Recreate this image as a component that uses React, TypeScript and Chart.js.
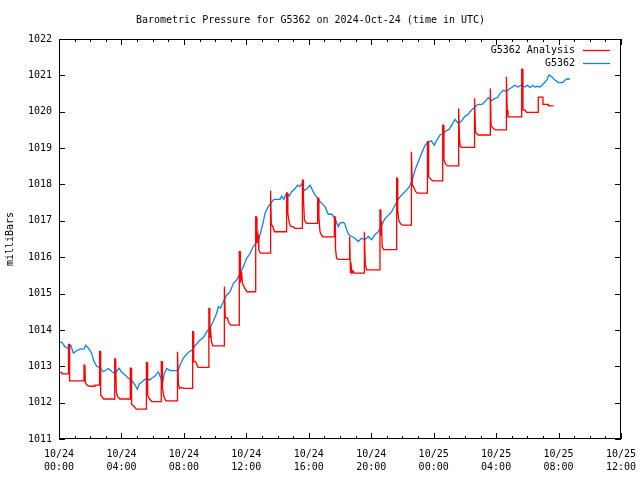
import React, { useEffect, useRef } from "react";
import { Chart, registerables } from "chart.js";

Chart.register(...registerables);

const chartTitle = "Barometric Pressure for G5362 on 2024-Oct-24 (time in UTC)";
const yAxisTitle = "milliBars";
const seriesNames = ["G5362 Analysis", "G5362"];
const seriesColors = ["#ff0000", "rgb(16,128,240)"];

// x values are hours since 10/24 00:00 UTC
const xTickLabels = [
  ["10/24", "00:00"],
  ["10/24", "04:00"],
  ["10/24", "08:00"],
  ["10/24", "12:00"],
  ["10/24", "16:00"],
  ["10/24", "20:00"],
  ["10/25", "00:00"],
  ["10/25", "04:00"],
  ["10/25", "08:00"],
  ["10/25", "12:00"],
];
const xMin = 0;
const xMax = 36;
const xMajorStep = 4;
const yMin = 1011;
const yMax = 1022;

const analysisHours = [
  0, 0.19, 0.19, 0.58, 0.58, 0.62, 0.63, 0.66, 0.68, 1.6,
  1.6, 1.66, 1.69, 1.8, 1.95, 2.3, 2.3, 2.6,
  2.6, 2.65, 2.67, 2.75, 2.85, 3.57,
  3.57, 3.63, 3.67, 3.75, 3.9, 4.55,
  4.55, 4.58, 4.62, 4.65, 4.8, 4.95, 5.6,
  5.6, 5.65, 5.68, 5.8, 5.95, 6.55,
  6.55, 6.6, 6.63, 6.72, 6.85, 7.56,
  7.56, 7.62, 7.65, 7.72, 7.85, 8.0, 8.56,
  8.56, 8.6, 8.63, 8.75, 8.9, 9.6,
  9.6, 9.64, 9.66, 9.72, 9.76, 9.85, 10.57,
  10.57, 10.62, 10.65, 10.8, 10.85, 11.0, 11.55,
  11.55, 11.6, 11.62, 11.7, 11.75, 11.9, 12.05, 12.6,
  12.6, 12.65, 12.68, 12.75, 12.8, 12.9, 13.53,
  13.53, 13.58, 13.6, 13.7, 13.8, 14.58,
  14.58, 14.62, 14.66, 14.75, 14.85, 15.0, 15.1, 15.59,
  15.59, 15.64, 15.66, 15.72, 15.85, 16.57,
  16.57, 16.62, 16.65, 16.72, 16.8, 16.9, 17.64,
  17.64, 17.68, 17.71, 17.78, 17.9, 18.6,
  18.6, 18.64, 18.67, 18.72, 18.77, 18.85, 18.9, 19.54,
  19.54, 19.58, 19.62, 19.7, 20.56,
  20.56, 20.6, 20.62, 20.66, 20.7, 20.8, 21.63,
  21.63, 21.67, 21.7, 21.76, 21.88, 22.0, 22.55,
  22.55, 22.6, 22.63, 22.7, 22.85, 22.95, 23.6,
  23.6, 23.64, 23.68, 23.8, 23.95, 24.58,
  24.58, 24.62, 24.66, 24.78, 24.9, 25.58,
  25.58, 25.62, 25.65, 25.7, 25.8, 26.6,
  26.6, 26.64, 26.68, 26.75, 26.85, 27.61,
  27.61, 27.65, 27.68, 27.8, 27.95, 28.64,
  28.64, 28.68, 28.71, 28.76, 29.64,
  29.64, 29.68, 29.72, 29.85, 29.95, 30.7,
  30.7, 31.0, 31.0, 31.35, 31.35, 31.67,
];
const analysisValues = [
  1012.83, 1012.83, 1012.79, 1012.79, 1013.36, 1013.36, 1013.6, 1013.6, 1012.6, 1012.6,
  1013.03, 1013.03, 1012.55, 1012.48, 1012.45, 1012.45, 1012.48, 1012.48,
  1013.41, 1013.41, 1012.2, 1012.17, 1012.1, 1012.1,
  1013.2, 1013.2, 1012.3, 1012.17, 1012.1, 1012.1,
  1012.67, 1012.95, 1012.95, 1011.95, 1011.9, 1011.82, 1011.82,
  1013.1, 1013.1, 1012.2, 1012.1, 1012.03, 1012.03,
  1013.13, 1013.13, 1012.4, 1012.16, 1012.05, 1012.05,
  1013.4, 1013.4, 1012.5, 1012.39, 1012.42, 1012.39, 1012.39,
  1013.95, 1013.95, 1013.13, 1013.13, 1012.97, 1012.97,
  1014.59, 1014.59, 1013.78, 1013.95, 1013.7, 1013.56, 1013.56,
  1015.19, 1015.19, 1014.33, 1014.33, 1014.22, 1014.13, 1014.13,
  1016.15, 1016.15, 1015.3, 1015.6, 1015.28, 1015.15, 1015.05, 1015.05,
  1017.11, 1017.11, 1016.4, 1016.6, 1016.2, 1016.11, 1016.11,
  1017.83, 1017.83, 1016.9, 1016.84, 1016.7, 1016.7,
  1017.76, 1017.76, 1017.2, 1016.95, 1016.84, 1016.84, 1016.79, 1016.79,
  1018.12, 1018.12, 1017.6, 1017.02, 1016.93, 1016.93,
  1017.62, 1017.62, 1017.1, 1016.7, 1016.62, 1016.56, 1016.56,
  1017.11, 1017.11, 1016.24, 1015.97, 1015.94, 1015.94,
  1016.56, 1016.56, 1015.56, 1015.75, 1015.56, 1015.62, 1015.56, 1015.56,
  1016.7, 1016.7, 1015.8, 1015.65, 1015.65,
  1017.3, 1017.3, 1016.6, 1017.0, 1016.29, 1016.21, 1016.21,
  1018.17, 1018.17, 1017.3, 1017.02, 1016.92, 1016.88, 1016.88,
  1018.9, 1018.9, 1018.0, 1017.94, 1017.8, 1017.76, 1017.76,
  1019.18, 1019.18, 1018.21, 1018.15, 1018.1, 1018.1,
  1019.63, 1019.63, 1018.67, 1018.55, 1018.51, 1018.51,
  1020.09, 1020.09, 1019.3, 1019.05, 1019.02, 1019.02,
  1020.37, 1020.37, 1019.45, 1019.4, 1019.36, 1019.36,
  1020.64, 1020.64, 1019.6, 1019.55, 1019.5, 1019.5,
  1020.96, 1020.96, 1020.05, 1019.86, 1019.86,
  1021.17, 1021.17, 1020.05, 1020.05, 1019.98, 1019.98,
  1020.4, 1020.4, 1020.2, 1020.2, 1020.16, 1020.16,
];

const stationHours = [
  0, 0.2, 0.38, 0.6, 0.75, 0.92, 1.1, 1.35, 1.6, 1.71,
  1.9, 2.09, 2.2, 2.41, 2.6, 2.84, 3.16, 3.4, 3.59, 3.84,
  4.0, 4.23, 4.44, 4.65, 4.87, 5.02, 5.15, 5.3, 5.45, 5.62,
  5.8, 5.94, 6.15, 6.36, 6.5, 6.64, 6.75, 6.9, 7.11, 7.64,
  7.75, 7.96, 8.1, 8.28, 8.5, 8.67, 8.82, 9.04, 9.25, 9.46,
  9.67, 9.88, 10.1, 10.21, 10.35, 10.53, 10.74, 10.96, 11.17, 11.38,
  11.6, 11.81, 12.02, 12.24, 12.45, 12.66, 12.88, 13.09, 13.2, 13.41,
  13.56, 13.77, 14.16, 14.26, 14.4, 14.59, 14.75, 14.9, 15.12, 15.29,
  15.42, 15.55, 15.7, 15.9, 16.08, 16.25, 16.4, 16.61, 16.83, 17.04,
  17.25, 17.47, 17.68, 17.89, 18.0, 18.17, 18.3, 18.43, 18.58, 18.75,
  18.96, 19.17, 19.38, 19.6, 19.81, 20.03, 20.24, 20.45, 20.67, 20.88,
  21.1, 21.31, 21.52, 21.74, 21.84, 22.05, 22.27, 22.45, 22.63, 22.81,
  23.02, 23.23, 23.45, 23.66, 23.85, 24.04, 24.2, 24.41, 24.6, 24.79,
  25.0, 25.22, 25.37, 25.58, 25.8, 26.01, 26.2, 26.33, 26.54, 26.76,
  26.86, 27.1, 27.29, 27.5, 27.67, 27.9, 28.1, 28.25, 28.45, 28.68,
  28.89, 29.05, 29.21, 29.4, 29.6, 29.85, 30.0, 30.17, 30.35, 30.49,
  30.65, 30.81, 31.03, 31.24, 31.39, 31.56, 31.77, 31.99, 32.24, 32.4,
  32.52, 32.73,
];
const stationValues = [
  1013.68, 1013.65, 1013.54, 1013.49, 1013.58, 1013.36, 1013.42, 1013.47, 1013.47, 1013.58,
  1013.49, 1013.36, 1013.17, 1013.0, 1012.97, 1012.85, 1012.94, 1012.85, 1012.8, 1012.95,
  1012.85, 1012.76, 1012.67, 1012.62, 1012.48, 1012.37, 1012.52, 1012.56, 1012.62, 1012.67,
  1012.62, 1012.67, 1012.73, 1012.85, 1012.7, 1012.56, 1012.8, 1012.94, 1012.88, 1012.88,
  1013.03, 1013.22, 1013.3, 1013.38, 1013.44, 1013.54, 1013.62, 1013.72, 1013.79, 1013.95,
  1014.05, 1014.24, 1014.46, 1014.64, 1014.6, 1014.78, 1014.96, 1015.05, 1015.28, 1015.37,
  1015.56, 1015.74, 1015.97, 1016.1, 1016.3, 1016.4, 1016.61, 1016.98, 1017.21, 1017.39,
  1017.48, 1017.59, 1017.59, 1017.68, 1017.59, 1017.77, 1017.68, 1017.8, 1017.89, 1017.98,
  1017.94, 1018.01, 1017.83, 1017.89, 1017.98, 1017.83, 1017.71, 1017.59, 1017.48, 1017.39,
  1017.18, 1017.18, 1017.06, 1016.84, 1016.93, 1016.96, 1016.93, 1016.75, 1016.61, 1016.57,
  1016.52, 1016.43, 1016.52, 1016.48, 1016.57, 1016.48, 1016.62, 1016.7, 1016.88, 1017.06,
  1017.15, 1017.25, 1017.43, 1017.6, 1017.66, 1017.75, 1017.85, 1017.94, 1018.12, 1018.4,
  1018.63, 1018.86, 1019.08, 1019.17, 1019.2, 1019.08, 1019.22, 1019.36, 1019.4, 1019.47,
  1019.52, 1019.68, 1019.79, 1019.68, 1019.75, 1019.88, 1019.92, 1020.0, 1020.09, 1020.18,
  1020.2, 1020.2, 1020.28, 1020.39, 1020.3, 1020.36, 1020.39, 1020.5, 1020.59, 1020.56,
  1020.64, 1020.68, 1020.73, 1020.68, 1020.73, 1020.68, 1020.73, 1020.66, 1020.72, 1020.68,
  1020.7, 1020.68, 1020.77, 1020.87, 1021.01, 1020.96, 1020.87, 1020.8, 1020.8, 1020.86,
  1020.9, 1020.9,
];

const FONT = "'DejaVu Sans Mono', 'Liberation Mono', monospace";

const frameAndTicksPlugin = {
  id: "frameAndTicks",
  afterDatasetsDraw(chart: any) {
    const { ctx, chartArea: a, scales } = chart;
    const x = scales.x;
    const y = scales.y;
    ctx.save();
    ctx.strokeStyle = "#000";
    ctx.lineWidth = 1;
    ctx.beginPath();
    for (let h = xMin; h <= xMax; h += 1) {
      const px = Math.round(x.getPixelForValue(h)) + 0.5;
      const len = h % xMajorStep === 0 ? 6 : 3;
      ctx.moveTo(px, a.bottom);
      ctx.lineTo(px, a.bottom - len);
      ctx.moveTo(px, a.top);
      ctx.lineTo(px, a.top + len);
    }
    for (let v = yMin; v <= yMax; v += 1) {
      const py = Math.round(y.getPixelForValue(v)) + 0.5;
      ctx.moveTo(a.left, py);
      ctx.lineTo(a.left + 6, py);
      ctx.moveTo(a.right, py);
      ctx.lineTo(a.right - 6, py);
    }
    ctx.stroke();
    ctx.strokeRect(Math.round(a.left) + 0.5, Math.round(a.top) + 0.5, Math.round(a.right - a.left) - 1, Math.round(a.bottom - a.top) - 1);
    ctx.restore();
  },
};

const insideLegendPlugin = {
  id: "insideLegend",
  afterDraw(chart: any) {
    const { ctx, chartArea: a } = chart;
    ctx.save();
    ctx.font = `10px ${FONT}`;
    ctx.textAlign = "right";
    ctx.textBaseline = "middle";
    chart.data.datasets.forEach((ds: any, i: number) => {
      const yy = Math.round(a.top + 11 + i * 13) + 0.5;
      ctx.fillStyle = "#000";
      ctx.fillText(ds.label, a.right - 46, yy);
      ctx.strokeStyle = ds.borderColor;
      ctx.lineWidth = 1.3;
      ctx.beginPath();
      ctx.moveTo(a.right - 38, yy);
      ctx.lineTo(a.right - 11, yy);
      ctx.stroke();
    });
    ctx.restore();
  },
};

export default function App() {
  const canvasRef = useRef<HTMLCanvasElement | null>(null);

  useEffect(() => {
    if (!canvasRef.current) return;
    const analysisData = analysisHours.map((h, i) => ({ x: h, y: analysisValues[i] }));
    const stationData = stationHours.map((h, i) => ({ x: h, y: stationValues[i] }));
    const chart = new Chart(canvasRef.current, {
      type: "line",
      data: {
        datasets: [
          {
            label: seriesNames[0],
            data: analysisData,
            borderColor: seriesColors[0],
            borderWidth: 1.3,
            pointRadius: 0,
            tension: 0,
            fill: false,
          },
          {
            label: seriesNames[1],
            data: stationData,
            borderColor: seriesColors[1],
            borderWidth: 1.3,
            pointRadius: 0,
            tension: 0,
            fill: false,
          },
        ],
      },
      options: {
        responsive: false,
        animation: false,
        devicePixelRatio: 1,
        layout: { padding: { left: 0, right: 19, top: 0, bottom: 0 } },
        plugins: {
          legend: { display: false },
          tooltip: { enabled: false },
          title: {
            display: true,
            text: chartTitle,
            color: "#000",
            font: { family: FONT, size: 10, weight: "normal", lineHeight: 1.2 },
            padding: { top: 14, bottom: 13 },
          },
        },
        scales: {
          x: {
            type: "linear",
            min: xMin,
            max: xMax,
            grid: { display: false, drawTicks: false },
            border: { display: false },
            ticks: {
              stepSize: xMajorStep,
              autoSkip: false,
              maxRotation: 0,
              color: "#000",
              padding: 9,
              font: { family: FONT, size: 10, lineHeight: 1.3 },
              callback: (value: any) => xTickLabels[Math.round(Number(value) / xMajorStep)] as any,
            },
            afterFit: (scale: any) => {
              scale.height = 41;
              scale.paddingLeft = 0;
              scale.paddingRight = 0;
            },
          },
          y: {
            type: "linear",
            min: yMin,
            max: yMax,
            grid: { display: false, drawTicks: false },
            border: { display: false },
            ticks: {
              stepSize: 1,
              color: "#000",
              padding: 7,
              font: { family: FONT, size: 10 },
              callback: (value: any) => String(value),
            },
            title: {
              display: true,
              text: yAxisTitle,
              color: "#000",
              font: { family: FONT, size: 10, lineHeight: 1.2 },
              padding: { top: 4, bottom: 0 },
            },
            afterFit: (scale: any) => {
              scale.width = 59;
              scale.paddingTop = 0;
              scale.paddingBottom = 0;
            },
          },
        },
      },
      plugins: [frameAndTicksPlugin, insideLegendPlugin],
    });
    return () => chart.destroy();
  }, []);

  return (
    <div style={{ position: "fixed", left: 0, top: 0, width: 640, height: 480, background: "#fff" }}>
      <canvas ref={canvasRef} width={640} height={480} />
    </div>
  );
}
